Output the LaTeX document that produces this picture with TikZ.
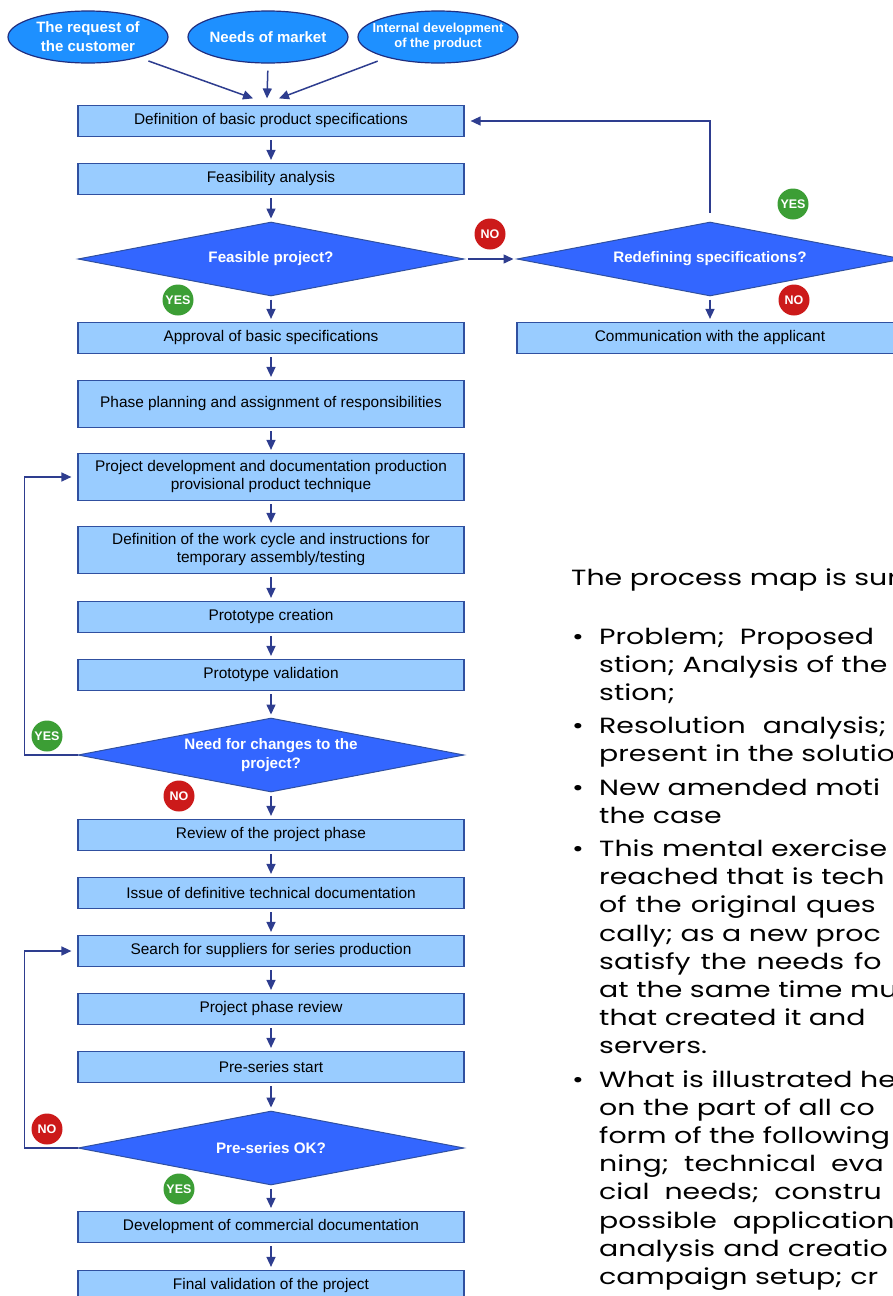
\documentclass[tikz,border=0pt]{standalone}
\usepackage{fontspec}
\setmainfont{Liberation Sans}
\newfontfamily\gothic[FakeStretch=1.29]{Poppins}
\usetikzlibrary{shapes.geometric,arrows.meta}

\definecolor{linecol}{HTML}{2E3D8F}
\definecolor{boxfill}{HTML}{99CCFF}
\definecolor{boxline}{HTML}{3050A0}
\definecolor{ovalfill}{HTML}{1E90FF}
\definecolor{ovalline}{HTML}{1F2E80}
\definecolor{diafill}{HTML}{3366FF}
\definecolor{yescol}{HTML}{3C9E35}
\definecolor{nocol}{HTML}{CC1A1A}

\begin{document}
\begin{tikzpicture}[x=1pt,y=-1pt,
  stepbox/.style={rectangle, draw=boxline, fill=boxfill, line width=1.2pt, minimum width=386pt, minimum height=#1, inner sep=0pt, align=center, font=\fontsize{15.4}{18}\selectfont},
  stepbox/.default=31pt,
  oval/.style={ellipse, draw=ovalline, fill=ovalfill, line width=1.2pt, minimum width=160pt, minimum height=52pt, inner xsep=-14pt, inner ysep=-6pt, align=center, text=white, font=\bfseries\fontsize{15}{19}\selectfont},
  query/.style={diamond, draw=boxline, fill=diafill, line width=1pt, aspect=5.2, minimum width=386pt, minimum height=74pt, inner sep=0pt, align=center, text=white, font=\bfseries\fontsize{15.2}{19}\selectfont},
  badge/.style={circle, fill=#1, minimum size=31pt, inner sep=0pt, text=white, font=\bfseries\fontsize{12.5}{13}\selectfont},
  arr/.style={draw=linecol, line width=1.5pt, -{Triangle[width=9pt,length=10pt]}, shorten <=3pt, shorten >=3pt},
  note/.style={anchor=base west, inner sep=0pt, font=\gothic\fontsize{22}{26}\selectfont}
]
\useasboundingbox (0,0) rectangle (893,1296);
\clip (0,0) rectangle (893,1296);

\node [oval] (request) at (88,37) {The request of\\the customer};
\node [oval] (market) at (268,37) {Needs of market};
\node [oval, font=\bfseries\fontsize{13}{15}\selectfont] (internal) at (438,37) {Internal development\\of the product};

\node [stepbox] (basic) at (271,121) {Definition of basic product specifications};
\node [stepbox] (feas) at (271,179) {Feasibility analysis};
\node [query] (feasible) at (271,259) {Feasible project?};
\node [stepbox] (approval) at (271,338) {Approval of basic specifications};
\node [stepbox=47pt] (phase) at (271,404) {Phase planning and assignment of responsibilities};
\node [stepbox=47pt] (develop) at (271,477) {Project development and documentation production\\provisional product technique};
\node [stepbox=47pt] (cycle) at (271,550) {Definition of the work cycle and instructions for\\temporary assembly/testing};
\node [stepbox] (proto) at (271,617) {Prototype creation};
\node [stepbox] (valid) at (271,675) {Prototype validation};
\node [query] (change) at (271,755) {Need for changes to the\\project?};
\node [stepbox] (review) at (271,835) {Review of the project phase};
\node [stepbox] (issue) at (271,893) {Issue of definitive technical documentation};
\node [stepbox] (search) at (271,951) {Search for suppliers for series production};
\node [stepbox] (phrev) at (271,1009) {Project phase review};
\node [stepbox] (prestart) at (271,1067) {Pre-series start};
\node [query] (preok) at (271,1148) {Pre-series OK?};
\node [stepbox] (commerc) at (271,1227) {Development of commercial documentation};
\node [stepbox] (final) at (271,1286) {Final validation of the project};

\node [query] (redefine) at (710,259) {Redefining specifications?};
\node [stepbox] (comm) at (710,338) {Communication with the applicant};

\draw [arr, shorten <=10pt, shorten >=0pt] (request.-22) -- ([xshift=-18pt,yshift=6.5pt]basic.north);
\draw [arr, shorten <=7pt, shorten >=0pt] (market.south) -- ([xshift=-4pt,yshift=6.5pt]basic.north);
\draw [arr, shorten <=10pt, shorten >=0pt] (internal.-158) -- ([xshift=8pt,yshift=6.5pt]basic.north);

\draw [arr] (basic) -- (feas);
\draw [arr] (feas) -- (feasible);
\draw [arr] (feasible) -- (approval);
\draw [arr] (approval) -- (phase);
\draw [arr] (phase) -- (develop);
\draw [arr] (develop) -- (cycle);
\draw [arr] (cycle) -- (proto);
\draw [arr] (proto) -- (valid);
\draw [arr] (valid) -- (change);
\draw [arr] (change) -- (review);
\draw [arr] (review) -- (issue);
\draw [arr] (issue) -- (search);
\draw [arr] (search) -- (phrev);
\draw [arr] (phrev) -- (prestart);
\draw [arr] (prestart) -- (preok);
\draw [arr] (preok) -- (commerc);
\draw [arr] (commerc) -- (final);

\draw [arr] (feasible.east) -- (redefine.west);
\draw [arr] (redefine) -- (comm);
\draw [arr, shorten <=9pt, shorten >=6pt] (redefine.north) |- (basic.east);
\draw [arr, shorten <=0pt, shorten >=6pt] (change.west) -- ++(-53,0) |- (develop.west);
\draw [arr, shorten <=0pt, shorten >=6pt] (preok.west) -- ++(-53,0) |- (search.west);

\node [badge=yescol] (yes1) at (178,300) {YES};
\node [badge=nocol] (no1) at (490,234) {NO};
\node [badge=yescol] (yes2) at (793,204) {YES};
\node [badge=nocol] (no2) at (794,300) {NO};
\node [badge=yescol] (yes3) at (47,736) {YES};
\node [badge=nocol] (no3) at (179,796) {NO};
\node [badge=nocol] (no4) at (47,1129) {NO};
\node [badge=yescol] (yes4) at (179,1189) {YES};

\node [note] (title) at (571,585) {The process map is sur};
\node [note] (b1) at (572,644) {•};
\node [note] (l1) at (599,644) {Problem;\hspace{15pt}Proposed};
\node [note] (l2) at (599,672) {stion; Analysis of the};
\node [note] (l3) at (599,700) {stion;};
\node [note] (b2) at (572,733) {•};
\node [note] (l4) at (599,733) {Resolution\hspace{17pt}analysis;};
\node [note] (l5) at (599,761) {present in the solutio};
\node [note] (b3) at (572,795) {•};
\node [note] (l6) at (599,795) {New amended moti};
\node [note] (l7) at (599,823) {the case};
\node [note] (b4) at (572,856) {•};
\node [note] (l8) at (599,856) {This mental exercise};
\node [note] (l9) at (599,884) {reached that is tech};
\node [note] (l10) at (599,912) {of\hspace{9pt}the\hspace{9pt}original\hspace{9pt}ques};
\node [note] (l11) at (599,941) {cally; as a new proc};
\node [note] (l12) at (599,969) {satisfy\hspace{10pt}the\hspace{10pt}needs\hspace{10pt}fo};
\node [note] (l13) at (599,997) {at the same time mu};
\node [note] (l14) at (599,1025) {that created it and};
\node [note] (l15) at (599,1053) {servers.};
\node [note] (b5) at (572,1087) {•};
\node [note] (l16) at (599,1087) {What is illustrated he};
\node [note] (l17) at (599,1115) {on the part of all co};
\node [note] (l18) at (599,1143) {form of the following};
\node [note] (l19) at (599,1171) {ning;\hspace{15pt}technical\hspace{15pt}eva};
\node [note] (l20) at (599,1199) {cial\hspace{15pt}needs;\hspace{15pt}constru};
\node [note] (l21) at (599,1228) {possible\hspace{16pt}application};
\node [note] (l22) at (599,1256) {analysis\hspace{8pt}and\hspace{8pt}creatio};
\node [note] (l23) at (599,1284) {campaign setup; cr};
\end{tikzpicture}
\end{document}
